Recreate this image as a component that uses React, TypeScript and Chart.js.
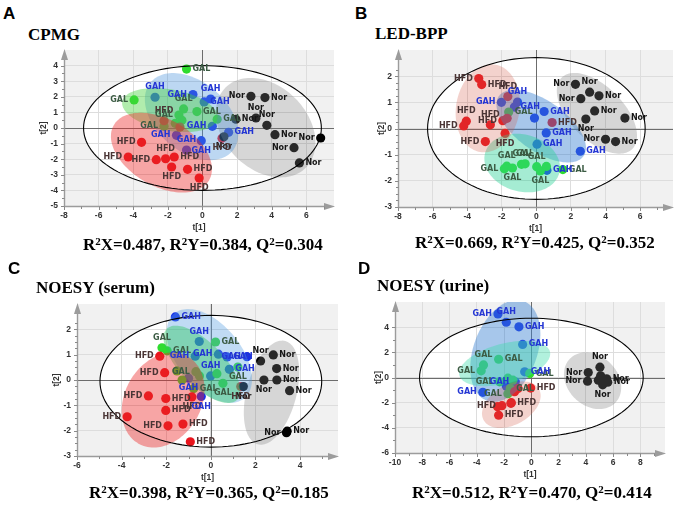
import React, { useEffect, useRef } from "react";
import { Chart, registerables } from "chart.js";

Chart.register(...registerables);

type Pt = [number, number];
type Group = "Nor" | "HFD" | "GAL" | "GAH";
const GROUPS: Group[] = ["Nor", "HFD", "GAL", "GAH"];

// ================= A: CPMG =================
const cpmgStats = [0.487, 0.384, 0.304];
const cpmgXTicks = [-8, -6, -4, -2, 0, 2, 4, 6];
const cpmgYTicks = [-5, -4, -3, -2, -1, 0, 1, 2, 3, 4];
const cpmgNor: Pt[] = [[2.8, 2.03], [3.61, 1.95], [1.93, 0.56], [3.09, 0.64], [3.72, 0.17], [4.19, -0.43], [5.29, -1.26], [6.83, -0.64], [5.6, -2.24], [1.24, -0.56]];
const cpmgNorSide = "lrrttrllrb";
const cpmgHFD: Pt[] = [[-3.52, -0.92], [-4.29, -1.86], [-2.67, -2.03], [-2.13, -1.97], [-1.63, -1.86], [-1.78, -2.5], [-0.86, -2.65], [-0.19, -3.21], [1.13, -0.66], [-2.22, 0.47], [-1.3, 0.06]];
const cpmgHFDSide = "llltrbrbbt-";
const cpmgGAL: Pt[] = [[-0.92, 3.78], [-3.95, 1.8], [-1.09, 1.22], [-1.36, 0.83], [-1.19, 0.49], [-0.32, 1.05], [0.85, 0.56], [-2.22, 0.11], [-1.57, 0.3]];
const cpmgGALSide = "rltl-rrl-";
const cpmgGAH: Pt[] = [[-2.74, 1.97], [-0.55, 2.14], [0.47, 1.86], [0.1, 1.67], [0.57, 0.11], [1.51, -0.28], [-0.07, -0.81], [-1.5, -0.47], [-0.92, -1.41]];
const cpmgGAHSide = "tltrlrblt";
// confidence regions: centre x, centre y, half-axis u (x,y), half-axis v (x,y)
const cpmgRegNor = [3.65, 0.02, 2.318, -2.569, 1.704, 1.889];
const cpmgRegHFD = [-2.37, -1.58, 2.755, -1.764, 0.964, 1.851];
const cpmgRegGAL = [-1.88, 1.15, 2.754, -0.538, 0.208, 1.305];
const cpmgRegGAH = [-0.63, 0.73, 2.363, -2.199, 1.302, 1.719];
const cpmgT2 = [0, 0, 6.87, 4.0];

// ================= B: LED-BPP =================
const ledStats = [0.669, 0.425, 0.352];
const ledXTicks = [-8, -6, -4, -2, 0, 2, 4, 6];
const ledYTicks = [-3, -2, -1, 0, 1, 2];
const ledNor: Pt[] = [[2.26, 1.69], [3.08, 1.39], [2.57, 1.14], [3.62, 1.25], [3.37, 0.67], [2.86, 0.36], [5.12, 0.4], [4.0, -0.41], [4.58, -0.5]];
const ledNorSide = "ltlrrbrlr";
const ledHFD: Pt[] = [[-3.33, 1.91], [-3.16, 1.68], [-1.65, 1.22], [-4.05, 0.28], [-4.2, 0.1], [-2.66, 0.14], [-1.94, 0.3], [-1.69, 0.39], [-2.95, -0.5], [-1.81, -0.19], [0.91, 0.23]];
const ledHFDSide = "lrttltl-lbr";
const ledGAL: Pt[] = [[-1.6, 0.63], [-1.71, -1.44], [-1.85, -1.54], [-1.38, -1.51], [-0.86, -1.37], [-0.65, -1.35], [0.02, -1.46], [0.23, -1.62], [0.58, -1.45], [1.53, -1.57]];
const ledGALSide = "rtlbtttb-r";
const ledGAH: Pt[] = [[-2.02, 1.0], [-1.09, 1.01], [-1.27, 0.82], [-0.11, 0.4], [0.45, 0.65], [0.57, -0.17], [0.04, -0.6], [2.54, -0.87], [0.61, -1.6]];
const ledGAHSide = "ltr-rrrrr";
const ledRegNor = [3.5, 0.58, 2.047, -1.361, 1.092, 0.726];
const ledRegHFD = [-2.81, 0.77, 0.443, 1.669, 1.806, -0.212];
const ledRegGAL = [-0.82, -1.32, 2.145, -0.382, 0.425, 1.054];
const ledRegGAH = [0.28, 0.09, 2.451, -1.142, 0.831, 0.789];
const ledT2 = [0, 0, 6.29, 2.71];

// ================= C: NOESY (serum) =================
const serumStats = [0.398, 0.365, 0.185];
const serumXTicks = [-6, -4, -2, 0, 2, 4];
const serumYTicks = [-3, -2, -1, 0, 1, 2];
const serumNor: Pt[] = [[2.8, 0.99], [2.23, 0.75], [2.95, 0.45], [2.38, 0.0], [2.96, 0.0], [3.53, -0.42], [3.42, -2.02], [3.39, -2.08], [1.46, -0.26]];
const serumNorSide = "rtrbrrrlb";
const serumHFD: Pt[] = [[-2.29, 0.94], [-2.07, 0.29], [-2.8, -0.63], [-2.02, -0.73], [-0.85, -0.67], [-2.02, -1.2], [-3.75, -1.45], [-1.92, -1.81], [-1.25, -1.74], [-0.92, -2.44], [1.34, -0.26]];
const serumHFDSide = "lllrbrllrrb";
const serumGAL: Pt[] = [[-2.19, 1.27], [-1.96, 1.15], [0.21, 1.5], [-0.67, 0.33], [-0.51, 0.16], [0.27, 0.25], [0.54, -0.13], [1.21, 0.51], [-1.29, 0.0], [-0.77, -0.34], [-1.52, 0.36]];
const serumGALSide = "trrl--bb-r-";
const serumGAH: Pt[] = [[-1.59, 2.49], [-0.52, 1.52], [-0.7, 0.94], [0.34, 1.02], [0.73, 0.91], [1.62, 0.92], [0.83, 0.42], [-0.01, 0.16], [-1.0, 0.07], [-0.43, -0.65]];
const serumGAHSide = "rtllrlrtbb";
const serumRegNor = [2.72, -0.5, 0.617, 2.039, 1.078, -0.256];
const serumRegHFD = [-2.14, -0.79, 1.116, 1.714, 1.482, -0.759];
const serumRegGAL = [-0.4, 0.62, 1.578, -1.399, 0.684, 0.606];
const serumRegGAH = [-0.07, 0.95, 1.578, -1.668, 1.083, 0.806];
const serumT2 = [0, -0.05, 4.97, 2.6];

// ================= D: NOESY (urine) =================
const urineStats = [0.512, 0.47, 0.414];
const urineXTicks = [-10, -8, -6, -4, -2, 0, 2, 4, 6, 8];
const urineYTicks = [-6, -4, -2, 0, 2, 4];
const urineNor: Pt[] = [[5.03, 0.82], [4.17, 0.39], [5.08, 0.13], [4.12, -0.29], [4.91, -0.21], [5.52, -0.1], [5.6, -0.37], [5.23, -0.58]];
const urineNorSide = "tl-l-rrb";
const urineHFD: Pt[] = [[-0.05, -0.84], [-1.23, -1.13], [-1.47, -2.0], [-1.5, -2.05], [-2.16, -2.24], [-2.48, -2.32], [-2.4, -3.0], [-0.98, -0.87]];
const urineHFDSide = "r-r-l-r-";
const urineGAL: Pt[] = [[-3.51, 1.0], [-3.68, 0.53], [-2.4, 1.45], [-2.33, -0.34], [-1.72, -0.05], [-1.35, -0.21], [-1.55, -0.87], [-1.72, -1.29], [-0.12, 0.32]];
const urineGALSide = "tlrl--rlr";
const urineGAH: Pt[] = [[-2.45, 5.05], [-1.84, 4.39], [-0.91, 4.03], [-0.64, 2.63], [-0.49, 0.45], [-3.56, -1.18], [-1.84, -0.68], [-1.18, -0.34]];
const urineGAHSide = "ltrrrl-l";
const urineRegNor = [4.49, -0.26, 1.648, -1.768, 1.301, 1.395];
const urineRegHFD = [-1.47, -2.16, 2.019, 1.25, 0.736, -1.367];
const urineRegGAL = [-1.96, 1.11, 3.319, 0.954, 0.381, -1.525];
const urineRegGAH = [-1.91, 2.11, 1.343, 3.958, 2.191, -0.855];
const urineT2 = [0, 0, 8.2, 4.71];

// ================= styles =================
const POINT_COLOR: Record<Group, string> = { Nor: "#000000", HFD: "#e8141c", GAL: "#2fdc2f", GAH: "#1530e8" };
const LABEL_COLOR: Record<Group, string> = { Nor: "#151515", HFD: "#4a3535", GAL: "#3c5c44", GAH: "#2436d4" };
const FILL_A: Record<Group, string> = { Nor: "rgba(128,128,128,0.32)", HFD: "rgba(235,40,40,0.42)", GAL: "rgba(70,210,60,0.42)", GAH: "rgba(80,150,220,0.38)" };
const FILL_B: Record<Group, string> = { Nor: "rgba(128,128,128,0.32)", HFD: "rgba(210,90,70,0.27)", GAL: "rgba(40,210,150,0.42)", GAH: "rgba(60,130,210,0.45)" };
const FILL_C: Record<Group, string> = { Nor: "rgba(128,128,128,0.32)", HFD: "rgba(235,40,40,0.42)", GAL: "rgba(40,200,90,0.42)", GAH: "rgba(90,160,225,0.38)" };
const FILL_D: Record<Group, string> = { Nor: "rgba(128,128,128,0.32)", HFD: "rgba(210,90,70,0.27)", GAL: "rgba(60,220,170,0.40)", GAH: "rgba(60,130,210,0.45)" };
const REGION_ORDER: Group[] = ["Nor", "GAH", "GAL", "HFD"];

interface PanelDef {
  key: string;
  title: string;
  stats: number[];
  area: [number, number, number, number];
  xr: [number, number];
  yr: [number, number];
  xTicks: number[];
  yTicks: number[];
  xDiv: number;
  yDiv: number;
  pts: Record<Group, Pt[]>;
  sides: Record<Group, string>;
  regions: Record<Group, number[]>;
  t2: number[];
  fills: Record<Group, string>;
  yTitleDx: number;
  letterPos: [number, number];
  titlePos: [number, number];
  statsPos: [number, number];
}

const PANELS: PanelDef[] = [
  {
    key: "A", title: "CPMG", stats: cpmgStats, area: [64, 50, 334, 206], xr: [-8, 7.6], yr: [-5, 5],
    xTicks: cpmgXTicks, yTicks: cpmgYTicks, xDiv: 2, yDiv: 2,
    pts: { Nor: cpmgNor, HFD: cpmgHFD, GAL: cpmgGAL, GAH: cpmgGAH },
    sides: { Nor: cpmgNorSide, HFD: cpmgHFDSide, GAL: cpmgGALSide, GAH: cpmgGAHSide },
    regions: { Nor: cpmgRegNor, HFD: cpmgRegHFD, GAL: cpmgRegGAL, GAH: cpmgRegGAH },
    t2: cpmgT2, fills: FILL_A, yTitleDx: 20, letterPos: [3, 5], titlePos: [28, 26], statsPos: [83, 236],
  },
  {
    key: "B", title: "LED-BPP", stats: ledStats, area: [398, 50, 673, 207], xr: [-8, 7.9], yr: [-3, 3],
    xTicks: ledXTicks, yTicks: ledYTicks, xDiv: 2, yDiv: 4,
    pts: { Nor: ledNor, HFD: ledHFD, GAL: ledGAL, GAH: ledGAH },
    sides: { Nor: ledNorSide, HFD: ledHFDSide, GAL: ledGALSide, GAH: ledGAHSide },
    regions: { Nor: ledRegNor, HFD: ledRegHFD, GAL: ledRegGAL, GAH: ledRegGAH },
    t2: ledT2, fills: FILL_B, yTitleDx: 16, letterPos: [355, 5], titlePos: [375, 25], statsPos: [415, 234],
  },
  {
    key: "C", title: "NOESY (serum)", stats: serumStats, area: [77, 304, 338, 456], xr: [-6, 5.7], yr: [-3, 3],
    xTicks: serumXTicks, yTicks: serumYTicks, xDiv: 2, yDiv: 4,
    pts: { Nor: serumNor, HFD: serumHFD, GAL: serumGAL, GAH: serumGAH },
    sides: { Nor: serumNorSide, HFD: serumHFDSide, GAL: serumGALSide, GAH: serumGAHSide },
    regions: { Nor: serumRegNor, HFD: serumRegHFD, GAL: serumRegGAL, GAH: serumRegGAH },
    t2: serumT2, fills: FILL_C, yTitleDx: 20, letterPos: [8, 260], titlePos: [36, 279], statsPos: [89, 484],
  },
  {
    key: "D", title: "NOESY (urine)", stats: urineStats, area: [395, 302, 665, 453], xr: [-10, 9.8], yr: [-6, 6],
    xTicks: urineXTicks, yTicks: urineYTicks, xDiv: 2, yDiv: 2,
    pts: { Nor: urineNor, HFD: urineHFD, GAL: urineGAL, GAH: urineGAH },
    sides: { Nor: urineNorSide, HFD: urineHFDSide, GAL: urineGALSide, GAH: urineGAHSide },
    regions: { Nor: urineRegNor, HFD: urineRegHFD, GAL: urineRegGAL, GAH: urineRegGAH },
    t2: urineT2, fills: FILL_D, yTitleDx: 16, letterPos: [358, 260], titlePos: [377, 277], statsPos: [412, 484],
  },
];

const PAD_L = 44;
const PAD_T = 10;
const PAD_B = 34;

function traceEllipse(ctx: CanvasRenderingContext2D, xs: any, ys: any, e: number[]) {
  ctx.beginPath();
  const n = 120;
  for (let i = 0; i <= n; i++) {
    const a = (i / n) * Math.PI * 2;
    const c = Math.cos(a);
    const s = Math.sin(a);
    const px = xs.getPixelForValue(e[0] + e[2] * c + e[4] * s);
    const py = ys.getPixelForValue(e[1] + e[3] * c + e[5] * s);
    if (i === 0) ctx.moveTo(px, py);
    else ctx.lineTo(px, py);
  }
  ctx.closePath();
}

function t2Vec(t: number[]) {
  return [t[0], t[1], t[2], 0, 0, t[3]];
}

function makePlugin(def: PanelDef) {
  return {
    id: "score" + def.key,
    beforeDraw(chart: any) {
      const { ctx, chartArea: ca, scales } = chart;
      ctx.save();
      ctx.fillStyle = "#f1f1f1";
      ctx.fillRect(ca.left, ca.top, ca.right - ca.left, ca.bottom - ca.top);
      ctx.beginPath();
      ctx.rect(ca.left, ca.top, ca.right - ca.left, ca.bottom - ca.top);
      ctx.clip();
      traceEllipse(ctx, scales.x, scales.y, t2Vec(def.t2));
      ctx.fillStyle = "#ffffff";
      ctx.fill();
      ctx.restore();
    },
    beforeDatasetsDraw(chart: any) {
      const { ctx, chartArea: ca, scales } = chart;
      const x0 = Math.round(scales.x.getPixelForValue(0)) + 0.5;
      const y0 = Math.round(scales.y.getPixelForValue(0)) + 0.5;
      ctx.save();
      ctx.strokeStyle = "#6c6c6c";
      ctx.lineWidth = 1;
      ctx.beginPath();
      ctx.moveTo(x0, ca.top);
      ctx.lineTo(x0, ca.bottom);
      ctx.moveTo(ca.left, y0);
      ctx.lineTo(ca.right, y0);
      ctx.stroke();
      ctx.restore();
    },
    afterDatasetsDraw(chart: any) {
      const { ctx, chartArea: ca, scales } = chart;
      const xs = scales.x;
      const ys = scales.y;
      ctx.save();
      ctx.beginPath();
      ctx.rect(ca.left, ca.top, ca.right - ca.left, ca.bottom - ca.top);
      ctx.clip();
      for (const g of REGION_ORDER) {
        traceEllipse(ctx, xs, ys, def.regions[g]);
        ctx.fillStyle = def.fills[g];
        ctx.fill();
      }
      traceEllipse(ctx, xs, ys, t2Vec(def.t2));
      ctx.strokeStyle = "#000";
      ctx.lineWidth = 1.1;
      ctx.stroke();
      ctx.restore();

      // point labels
      ctx.save();
      ctx.font = "bold 8px 'DejaVu Sans'";
      ctx.textBaseline = "middle";
      for (const g of GROUPS) {
        const pts = def.pts[g];
        const sides = def.sides[g];
        ctx.fillStyle = LABEL_COLOR[g];
        pts.forEach((p, i) => {
          const side = sides[i];
          if (!side || side === "-") return;
          const px = xs.getPixelForValue(p[0]);
          const py = ys.getPixelForValue(p[1]);
          if (side === "r") { ctx.textAlign = "left"; ctx.fillText(g, px + 6, py); }
          else if (side === "l") { ctx.textAlign = "right"; ctx.fillText(g, px - 6, py); }
          else if (side === "t") { ctx.textAlign = "center"; ctx.fillText(g, px, py - 10); }
          else if (side === "b") { ctx.textAlign = "center"; ctx.fillText(g, px, py + 10); }
        });
      }
      ctx.restore();

      // axes with arrows and tick marks
      ctx.save();
      const axisColor = "#9c9c9c";
      ctx.strokeStyle = axisColor;
      ctx.fillStyle = axisColor;
      ctx.lineWidth = 1.4;
      const L = ca.left + 0.5;
      const B = ca.bottom + 0.5;
      ctx.beginPath();
      ctx.moveTo(L, B);
      ctx.lineTo(L, ca.top + 6);
      ctx.moveTo(L, B);
      ctx.lineTo(ca.right - 6, B);
      ctx.stroke();
      ctx.beginPath();
      ctx.moveTo(L, ca.top - 1);
      ctx.lineTo(L - 3.5, ca.top + 10);
      ctx.lineTo(L + 3.5, ca.top + 10);
      ctx.closePath();
      ctx.fill();
      ctx.beginPath();
      ctx.moveTo(ca.right + 1, B);
      ctx.lineTo(ca.right - 10, B - 3.5);
      ctx.lineTo(ca.right - 10, B + 3.5);
      ctx.closePath();
      ctx.fill();
      ctx.lineWidth = 1;
      ctx.strokeStyle = "#8a8a8a";
      ctx.beginPath();
      const xStep = (def.xTicks[1] - def.xTicks[0]) / def.xDiv;
      for (let k = 0; ; k++) {
        const v = def.xTicks[0] + k * xStep;
        if (v > def.xr[1] - 0.6) break;
        const major = k % def.xDiv === 0;
        const px = Math.round(xs.getPixelForValue(v)) + 0.5;
        ctx.moveTo(px, B);
        ctx.lineTo(px, B + (major ? 3.5 : 2.5));
      }
      const yStep = (def.yTicks[1] - def.yTicks[0]) / def.yDiv;
      for (let k = 0; ; k++) {
        const v = def.yTicks[0] + k * yStep;
        if (v > def.yr[1] - 0.6 * (def.yTicks[1] - def.yTicks[0])) break;
        const major = k % def.yDiv === 0;
        const py = Math.round(ys.getPixelForValue(v)) + 0.5;
        ctx.moveTo(L, py);
        ctx.lineTo(L - (major ? 3.5 : 2.5), py);
      }
      ctx.stroke();

      // axis titles
      ctx.fillStyle = "#333";
      ctx.font = "bold 8.5px 'Liberation Sans'";
      ctx.textAlign = "center";
      ctx.textBaseline = "middle";
      ctx.fillText("t[1]", (ca.left + ca.right) / 2, ca.bottom + 21.5);
      ctx.translate(ca.left - def.yTitleDx, (ca.top + ca.bottom) / 2);
      ctx.rotate(-Math.PI / 2);
      ctx.fillText("t[2]", 0, 0);
      ctx.restore();
    },
  };
}

function Sup() {
  return <span style={{ fontSize: 11, position: "relative", top: -5 }}>2</span>;
}

function Panel({ def }: { def: PanelDef }) {
  const ref = useRef<HTMLCanvasElement | null>(null);
  const [l, t, r, b] = def.area;
  const padR = Math.min(6, 678 - r);
  const cw = r - l + PAD_L + padR;
  const ch = b - t + PAD_T + PAD_B;

  useEffect(() => {
    if (!ref.current) return;
    const datasets = GROUPS.map((g) => ({
      label: g,
      data: def.pts[g].map((p) => ({ x: p[0], y: p[1] })),
      backgroundColor: POINT_COLOR[g],
      borderColor: POINT_COLOR[g],
      borderWidth: 0,
      pointRadius: 4.6,
      pointHoverRadius: 4.6,
    }));
    const tickFont = { family: "'Liberation Sans'", size: 8.5, weight: "bold" as const };
    const chart = new Chart(ref.current, {
      type: "scatter",
      data: { datasets },
      options: {
        animation: false,
        responsive: false,
        maintainAspectRatio: false,
        events: [],
        layout: { padding: { left: 0, top: PAD_T, right: padR, bottom: 0 } },
        plugins: { legend: { display: false }, tooltip: { enabled: false } },
        scales: {
          x: {
            type: "linear",
            min: def.xr[0],
            max: def.xr[1],
            afterBuildTicks: (s: any) => { s.ticks = def.xTicks.map((v) => ({ value: v })); },
            afterFit: (s: any) => { s.height = PAD_B; s.paddingLeft = 0; s.paddingRight = 0; },
            grid: { color: "#dddddd", lineWidth: 1, drawTicks: false },
            border: { display: false },
            ticks: { font: tickFont, color: "#333", padding: 5, maxRotation: 0, autoSkip: false, callback: (v: any) => String(v) },
          },
          y: {
            type: "linear",
            min: def.yr[0],
            max: def.yr[1],
            afterBuildTicks: (s: any) => { s.ticks = def.yTicks.map((v) => ({ value: v })); },
            afterFit: (s: any) => { s.width = PAD_L; s.paddingTop = 0; s.paddingBottom = 0; },
            grid: { color: "#dddddd", lineWidth: 1, drawTicks: false },
            border: { display: false },
            ticks: { font: tickFont, color: "#333", padding: 6, autoSkip: false, callback: (v: any) => String(v) },
          },
        },
      },
      plugins: [makePlugin(def)],
    } as any);
    return () => chart.destroy();
  }, []);

  const serif = "'Liberation Serif', 'Times New Roman', serif";
  return (
    <>
      <div style={{ position: "absolute", left: def.letterPos[0], top: def.letterPos[1], font: "bold 17px 'Liberation Sans', Arial, sans-serif", lineHeight: "17px" }}>
        {def.key}
      </div>
      <div style={{ position: "absolute", left: def.titlePos[0], top: def.titlePos[1], font: `bold 17px ${serif}`, lineHeight: "17px", whiteSpace: "nowrap" }}>
        {def.title}
      </div>
      <canvas
        ref={ref}
        width={cw}
        height={ch}
        style={{ position: "absolute", left: l - PAD_L, top: t - PAD_T, width: cw, height: ch }}
      />
      <div style={{ position: "absolute", left: def.statsPos[0], top: def.statsPos[1], font: `bold 17px ${serif}`, lineHeight: "17px", whiteSpace: "nowrap" }}>
        R<Sup />X={def.stats[0].toFixed(3)}, R<Sup />Y={def.stats[1].toFixed(3)}, Q<Sup />={def.stats[2].toFixed(3)}
      </div>
    </>
  );
}

export default function App() {
  return (
    <div style={{ position: "absolute", left: 0, top: 0, width: 678, height: 508, overflow: "hidden", background: "#ffffff" }}>
      {PANELS.map((p) => (
        <Panel key={p.key} def={p} />
      ))}
    </div>
  );
}
